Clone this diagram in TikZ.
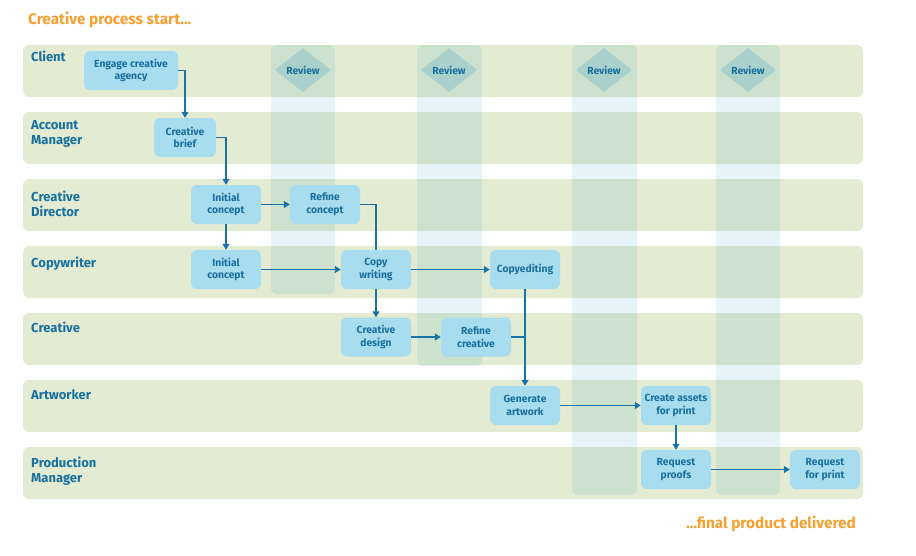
\documentclass[tikz,border=0pt]{standalone}
\usepackage{fontspec}
\setmainfont{Fira Sans}
\usetikzlibrary{arrows.meta,shapes.geometric}
\definecolor{lanegreen}{HTML}{E3ECD3}
\definecolor{colblue}{HTML}{E6F4FA}
\definecolor{diamondc}{HTML}{A9D0CB}
\definecolor{boxc}{HTML}{A8DCEF}
\definecolor{textc}{HTML}{19709F}
\definecolor{arrowc}{HTML}{1A73A6}
\definecolor{orangec}{HTML}{F7A030}
\tikzset{
  lane/.style={fill=lanegreen, draw=none, rounded corners=6pt},
  revcol/.style={fill=colblue, draw=none, rounded corners=6pt},
  lanelabel/.style={anchor=north west, inner sep=0pt, align=left, text=textc,
    font=\fontsize{13}{15.5}\selectfont\bfseries},
  stepbox/.style={rectangle, rounded corners=6pt, fill=boxc, draw=none, text=textc,
    minimum width=70pt, minimum height=39pt, inner sep=1pt, align=center,
    font=\fontsize{10.3}{12.8}\selectfont\bfseries},
  review/.style={diamond, fill=diamondc, draw=none, text=textc, minimum width=56pt,
    minimum height=44pt, inner sep=0pt, font=\fontsize{10.3}{12}\selectfont\bfseries},
  conn/.style={draw=arrowc, line width=1.2pt},
  arr/.style={conn, -{Triangle[length=6pt,width=7pt]}},
  titletext/.style={inner sep=0pt, text=orangec, font=\fontsize{15.3}{18}\selectfont\bfseries}
}
\begin{document}
\begin{tikzpicture}[x=1pt,y=-1pt]
\useasboundingbox (0,0) rectangle (916,555);
% lanes
\foreach \k in {0,...,6} {
  \path[lane] (23,{45+67*\k}) rectangle (863,{97+67*\k});
}
% review columns
\begin{scope}[blend mode=multiply]
  \path[revcol] (271,45) rectangle (335,294);
  \path[revcol] (417,45) rectangle (482,366);
  \path[revcol] (572,45) rectangle (637,495);
  \path[revcol] (716,45) rectangle (780,495);
\end{scope}
% lane labels
\node[lanelabel] (lClient) at (31,51) {Client};
\node[lanelabel] (lAM) at (31,120) {Account\\Manager};
\node[lanelabel] (lCD) at (31,190.5) {Creative\\Director};
\node[lanelabel] (lCW) at (31,256.5) {Copywriter};
\node[lanelabel] (lCr) at (31,321.5) {Creative};
\node[lanelabel] (lAw) at (31,389) {Artworker};
\node[lanelabel] (lPM) at (31,456.5) {Production\\Manager};
% titles
\node[titletext, anchor=base west] (start) at (28,24.5) {Creative process start...};
\node[titletext, anchor=base east] (final) at (856,528) {...final product delivered};
% review diamonds
\node[review] (r1) at (303,70) {Review};
\node[review] (r2) at (449,70) {Review};
\node[review] (r3) at (604,70) {Review};
\node[review] (r4) at (748,70) {Review};
% steps
\node[stepbox, minimum width=94pt] (engage) at (131,70.5) {Engage creative\\agency};
\node[stepbox, minimum width=62pt] (brief) at (185,137.5) {Creative\\brief};
\node[stepbox] (ic1) at (226,204.5) {Initial\\concept};
\node[stepbox] (rc) at (325,204.5) {Refine\\concept};
\node[stepbox] (ic2) at (226,269.5) {Initial\\concept};
\node[stepbox] (cw) at (376,269.5) {Copy\\writing};
\node[stepbox] (ce) at (525,269.5) {Copyediting};
\node[stepbox] (cd) at (376,337) {Creative\\design};
\node[stepbox] (rcr) at (476,337) {Refine\\creative};
\node[stepbox] (ga) at (525,405.5) {Generate\\artwork};
\node[stepbox] (ca) at (676,405.5) {Create assets\\for print};
\node[stepbox] (rp) at (676,469.5) {Request\\proofs};
\node[stepbox] (rfp) at (825,469.5) {Request\\for print};
% connectors
\draw[arr] (engage.east) -| (brief.north);
\draw[arr] (brief.east) -| (ic1.north);
\draw[arr] (ic1.east) -- (rc.west);
\draw[arr] (ic1.south) -- (ic2.north);
\draw[conn] (rc.east) -| (cw.north);
\draw[arr] (ic2.east) -- (cw.west);
\draw[arr] (cw.east) -- (ce.west);
\draw[arr] (cw.south) -- (cd.north);
\draw[arr] (cd.east) -- (rcr.west);
\draw[arr] (ce.south) -- (ga.north);
\coordinate (join) at (ce.south |- rcr.east);
\draw[conn] (rcr.east) -- (join);
\draw[arr] (ga.east) -- (ca.west);
\draw[arr] (ca.south) -- (rp.north);
\draw[arr] (rp.east) -- (rfp.west);
\end{tikzpicture}
\end{document}
